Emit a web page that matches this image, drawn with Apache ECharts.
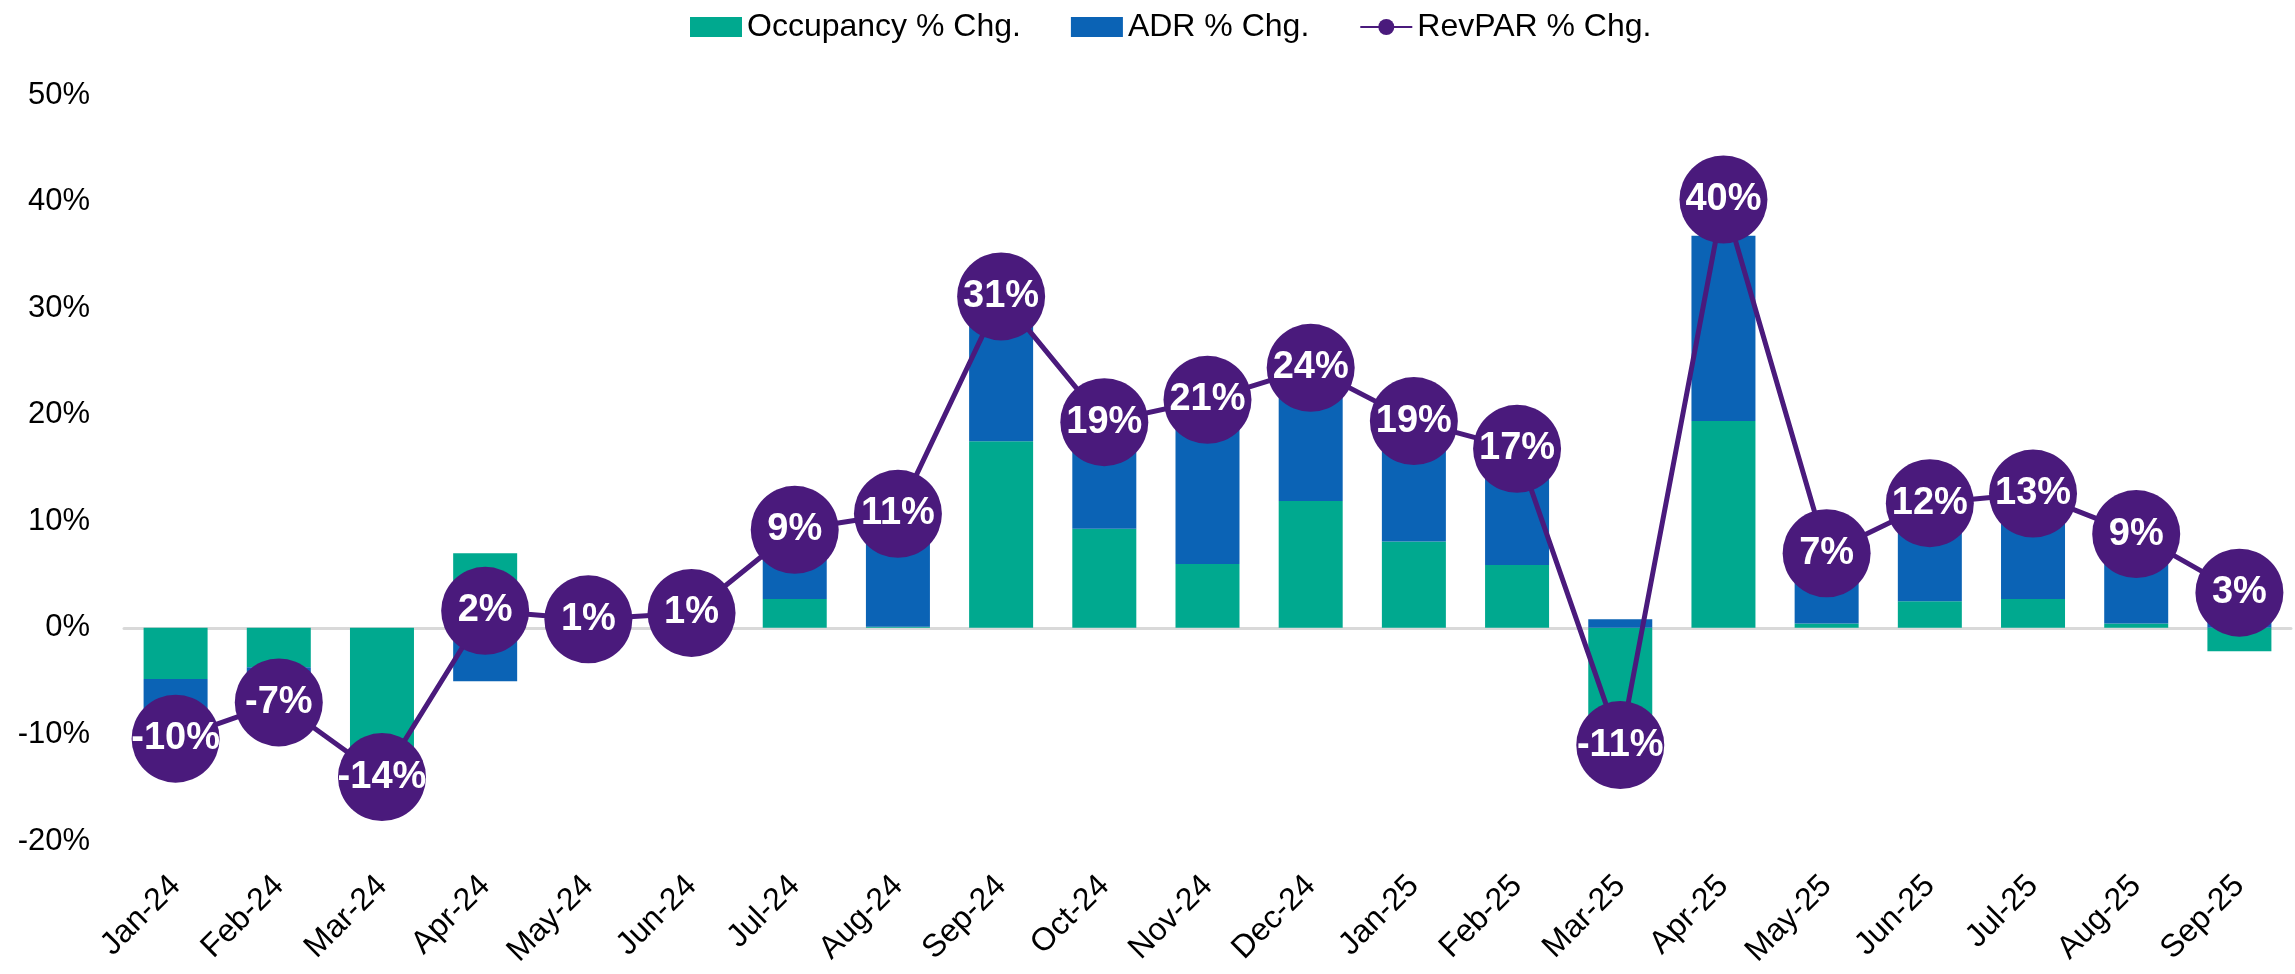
<!DOCTYPE html>
<html>
<head>
<meta charset="utf-8">
<title>Occupancy / ADR / RevPAR % Chg.</title>
<script src="https://cdn.jsdelivr.net/npm/echarts@6/dist/echarts.min.js"></script>
<style>
  html, body { margin: 0; padding: 0; background: #fff; }
  #chart { width: 2295px; height: 974px; }
</style>
</head>
<body>
<div id="chart"></div>
<script>
// months on the x axis
const categories = [
  'Jan-24', 'Feb-24', 'Mar-24', 'Apr-24', 'May-24', 'Jun-24', 'Jul-24',
  'Aug-24', 'Sep-24', 'Oct-24', 'Nov-24', 'Dec-24', 'Jan-25', 'Feb-25',
  'Mar-25', 'Apr-25', 'May-25', 'Jun-25', 'Jul-25', 'Aug-25', 'Sep-25'
]
// stacked bars (% change)
const occupancyChg = [-4.8, -3.7, -12.3, 7.0, 0.3, 0.5, 2.7, 0.1, 17.5, 9.3, 6.0, 11.9, 8.1, 5.9, -11.6, 19.4, 0.4, 2.5, 2.7, 0.4, -2.2]
const adrChg = [-5.9, -3.4, -2.0, -5.0, 0.6, 0.8, 6.3, 10.6, 11.6, 9.2, 14.5, 11.2, 10.6, 10.3, 0.8, 17.4, 6.6, 9.0, 9.7, 8.3, 5.6]
// line (% change)
const revparChg = [-10.4, -7.0, -14.0, 1.6, 0.8, 1.4, 9.2, 10.7, 31.1, 19.3, 21.4, 24.4, 19.4, 16.8, -11.0, 40.2, 7.0, 11.7, 12.6, 8.8, 3.3]
// y axis ticks
const yTicks = { min: -20, max: 50, interval: 10 }

const FONT = '"Liberation Sans", Arial, sans-serif'
const GREEN = '#00a98f'
const BLUE = '#0b63b5'
const PURPLE = '#4a1a7c'

const chart = echarts.init(document.getElementById('chart'))

const option = {
  animation: false,
  textStyle: { fontFamily: FONT },
  legend: {
    top: 6,
    left: 685,
    itemWidth: 52,
    itemHeight: 20,
    itemGap: 50,
    textStyle: { fontSize: 32, color: '#000', fontFamily: FONT },
    data: [
      { name: 'Occupancy % Chg.', icon: 'rect' },
      { name: 'ADR % Chg.', icon: 'rect' },
      { name: 'RevPAR % Chg.' }
    ]
  },
  grid: {
    left: 124,
    right: 4,
    top: 95,
    bottom: 133
  },
  xAxis: [
    {
      type: 'category',
      data: categories,
      position: 'bottom',
      axisLine: { show: false, onZero: false },
      axisTick: { show: false },
      axisLabel: {
        rotate: 45,
        interval: 0,
        margin: 40,
        fontSize: 32,
        color: '#000',
        fontFamily: FONT
      }
    },
    {
      // zero line only
      type: 'category',
      data: categories,
      axisLine: { show: true, onZero: true, lineStyle: { color: '#d9d9d9', width: 3 } },
      axisTick: { show: false },
      axisLabel: { show: false }
    }
  ],
  yAxis: {
    type: 'value',
    min: yTicks.min,
    max: yTicks.max,
    interval: yTicks.interval,
    splitLine: { show: false },
    axisLine: { show: false },
    axisTick: { show: false },
    axisLabel: {
      margin: 34,
      fontSize: 31,
      color: '#000',
      fontFamily: FONT,
      formatter: '{value}%'
    }
  },
  series: [
    {
      name: 'Occupancy % Chg.',
      type: 'bar',
      stack: 'chg',
      barWidth: 64,
      itemStyle: { color: GREEN },
      data: occupancyChg
    },
    {
      name: 'ADR % Chg.',
      type: 'bar',
      stack: 'chg',
      barWidth: 64,
      itemStyle: { color: BLUE },
      data: adrChg
    },
    {
      name: 'RevPAR % Chg.',
      type: 'line',
      z: 5,
      symbol: 'circle',
      symbolSize: 88,
      lineStyle: { color: PURPLE, width: 5 },
      itemStyle: { color: PURPLE },
      label: {
        show: true,
        position: 'inside',
        color: '#fff',
        fontWeight: 'bold',
        fontSize: 38,
        fontFamily: FONT,
        formatter: p => Math.round(p.value) + '%'
      },
      data: revparChg
    }
  ]
}

chart.setOption(option)
</script>
</body>
</html>
